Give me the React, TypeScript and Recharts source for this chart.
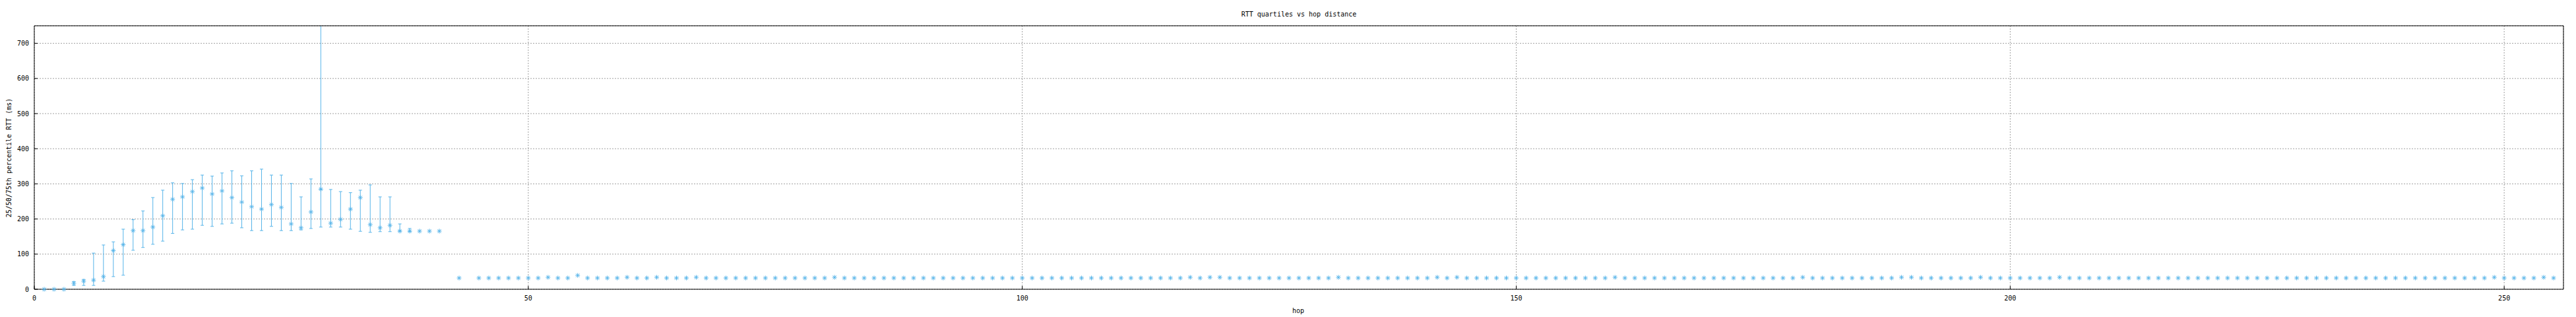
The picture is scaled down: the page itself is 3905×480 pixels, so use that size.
import { ScatterChart, Scatter, XAxis, YAxis, CartesianGrid, ErrorBar } from 'recharts'

const BLUE = '#56b4e9'
const GRID = '#a0a0a0'
const FONT = '"DejaVu Sans Mono", monospace'

// hops 1..41 with median and inter-quartile range (null = no spread drawn)
const EARLY_HOPS = [
  1, 2, 3, 4, 5, 6, 7, 8, 9, 10,
  11, 12, 13, 14, 15, 16, 17, 18, 19, 20,
  21, 22, 23, 24, 25, 26, 27, 28, 29, 30,
  31, 32, 33, 34, 35, 36, 37, 38, 39, 40, 41,
]
const EARLY_MED = [
  0, 0, 0, 17, 23, 26, 36, 110, 127, 167,
  167, 177, 209, 256, 263, 278, 288, 271, 280, 261,
  248, 235, 228, 241, 233, 186, 175, 220, 285, 188,
  199, 228, 261, 184, 175, 182, 165.5, 165.5, 165.5, 165.5, 165.5,
]
const EARLY_Q25 = [
  null, null, null, 11, 11, 11, 23, 36, 40, 111,
  119, 128, 137, 159, 169, 171, 182, 179, 186, 188,
  175, 167, 167, 179, 167, 167, 169, 173, 177, 177,
  177, 171, 165, 162, 164, 164, 165.5, 164, null, null, null,
]
const EARLY_Q75 = [
  null, null, null, 22, 28, 103, 126, 135, 171, 198,
  223, 261, 282, 303, 301, 312, 325, 322, 331, 337,
  323, 337, 342, 325, 325, 301, 263, 314, 900, 284,
  278, 275, 282, 297, 263, 263, 186, 173, null, null, null,
]

// hop 43, then hops 45..255 (hop 42 and 44 have no data)
const LATE_HOPS = [43, ...Array.from({ length: 211 }, (_, i) => 45 + i)]
const LATE_RTT = [
  32,
  32, 32, 32, 32, 32, 32, 32, 34, 32, 32, // 45-54
  39.5, 32, 32, 32, 32, 34, 32, 32, 34, 32, // 55-64
  32, 32, 34, 32, 32, 32, 32, 32, 32, 32, // 65-74
  32, 32, 32, 32, 32, 32, 34, 32, 32, 32, // 75-84
  32, 32, 32, 32, 32, 32, 32, 32, 32, 32, // 85-94
  32, 32, 32, 32, 32, 32, 32, 32, 32, 32, // 95-104
  32, 32, 32, 32, 32, 32, 32, 32, 32, 32, // 105-114
  32, 32, 34, 32, 34, 34, 32, 32, 32, 32, // 115-124
  32, 32, 32, 32, 32, 32, 32, 34, 32, 32, // 125-134
  32, 32, 32, 32, 32, 32, 32, 34, 32, 34, // 135-144
  32, 32, 32, 32, 32, 32, 32, 32, 32, 32, // 145-154
  32, 32, 32, 32, 32, 34, 32, 32, 32, 32, // 155-164
  32, 32, 32, 32, 32, 32, 32, 32, 32, 32, // 165-174
  32, 32, 32, 32, 34, 32, 32, 32, 32, 32, // 175-184
  32, 32, 32, 32, 34, 34, 32, 32, 32, 32, // 185-194
  32, 32, 34, 32, 32, 32, 32, 32, 32, 32, // 195-204
  34, 32, 32, 32, 32, 32, 32, 32, 32, 32, // 205-214
  32, 32, 32, 32, 32, 32, 32, 32, 32, 32, // 215-224
  32, 32, 32, 32, 32, 32, 32, 32, 32, 32, // 225-234
  32, 32, 32, 32, 32, 32, 32, 32, 32, 32, // 235-244
  32, 32, 32, 32, 34, 32, 32, 32, 32, 34, // 245-254
  32, // 255
]

const X_TICKS = [0, 50, 100, 150, 200, 250]
const Y_TICKS = [0, 100, 200, 300, 400, 500, 600, 700]
const Y_MAX = 750

interface Row {
  hop: number
  med: number
  lo: number | null
  hi: number | null
}

const rows: Row[] = [
  ...EARLY_HOPS.map((hop, i) => ({ hop, med: EARLY_MED[i], lo: EARLY_Q25[i], hi: EARLY_Q75[i] })),
  ...LATE_HOPS.map((hop, i) => ({ hop, med: LATE_RTT[i], lo: null, hi: null })),
]

// whiskers that run past the top of the plot are drawn open-ended in a second series
const inRange = rows.map((d) => (d.hi != null && d.hi > Y_MAX ? { ...d, hi: d.med } : d))
const overflow = rows.filter((d) => d.hi != null && d.hi > Y_MAX).map((d) => ({ ...d, lo: d.med, hi: Y_MAX }))

const spread = (d: Row) => (d.lo == null || d.hi == null ? undefined : [d.med - d.lo, d.hi - d.med])

function Asterisk(props: any) {
  const { cx, cy } = props
  if (cx == null || cy == null) return null
  const r = 3.5
  const d = 2.6
  return (
    <g stroke={BLUE} strokeWidth={1}>
      <line x1={cx - r} y1={cy} x2={cx + r} y2={cy} />
      <line x1={cx} y1={cy - r} x2={cx} y2={cy + r} />
      <line x1={cx - d} y1={cy - d} x2={cx + d} y2={cy + d} />
      <line x1={cx - d} y1={cy + d} x2={cx + d} y2={cy - d} />
    </g>
  )
}

const Nothing = () => <g />

const tickStyle = { fill: '#000', fontSize: 10, fontFamily: FONT }

export default function App() {
  return (
    <div style={{ position: 'absolute', left: 0, top: 0, width: 3905, height: 480, background: '#fff', fontFamily: FONT }}>
      <ScatterChart width={3905} height={480} margin={{ top: 38, right: 18, bottom: 12, left: 12 }}>
        <CartesianGrid stroke={GRID} strokeDasharray="2 2" />
        <XAxis
          dataKey="hop"
          type="number"
          domain={[0, 256]}
          ticks={X_TICKS}
          height={30}
          tickSize={-5}
          tickMargin={15}
          stroke="#000"
          tick={tickStyle}
        />
        <XAxis
          xAxisId="top"
          orientation="top"
          type="number"
          domain={[0, 256]}
          ticks={X_TICKS}
          height={1}
          tickSize={-5}
          tick={false}
          stroke="#000"
        />
        <YAxis
          dataKey="med"
          type="number"
          domain={[0, Y_MAX]}
          ticks={Y_TICKS}
          width={40}
          tickSize={-5}
          tickMargin={13}
          stroke="#000"
          tick={tickStyle}
        />
        <YAxis
          yAxisId="right"
          orientation="right"
          type="number"
          domain={[0, Y_MAX]}
          ticks={Y_TICKS}
          width={1}
          tickSize={-5}
          tick={false}
          stroke="#000"
        />
        <Scatter data={overflow} shape={<Nothing />} isAnimationActive={false}>
          <ErrorBar dataKey={spread as any} direction="y" width={0} stroke={BLUE} strokeWidth={1} isAnimationActive={false} />
        </Scatter>
        <Scatter data={inRange} shape={<Asterisk />} isAnimationActive={false}>
          <ErrorBar dataKey={spread as any} direction="y" width={2.5} stroke={BLUE} strokeWidth={1} isAnimationActive={false} />
        </Scatter>
      </ScatterChart>
      <div style={{ position: 'absolute', left: 1969, top: 21, transform: 'translate(-50%, -50%)', fontSize: 10, whiteSpace: 'nowrap' }}>
        RTT quartiles vs hop distance
      </div>
      <div style={{ position: 'absolute', left: 1968, top: 470, transform: 'translate(-50%, -50%)', fontSize: 10, whiteSpace: 'nowrap' }}>
        hop
      </div>
      <div style={{ position: 'absolute', left: 13, top: 239, transform: 'translate(-50%, -50%) rotate(-90deg)', fontSize: 10, whiteSpace: 'nowrap' }}>
        25/50/75th percentile RTT (ms)
      </div>
    </div>
  )
}
